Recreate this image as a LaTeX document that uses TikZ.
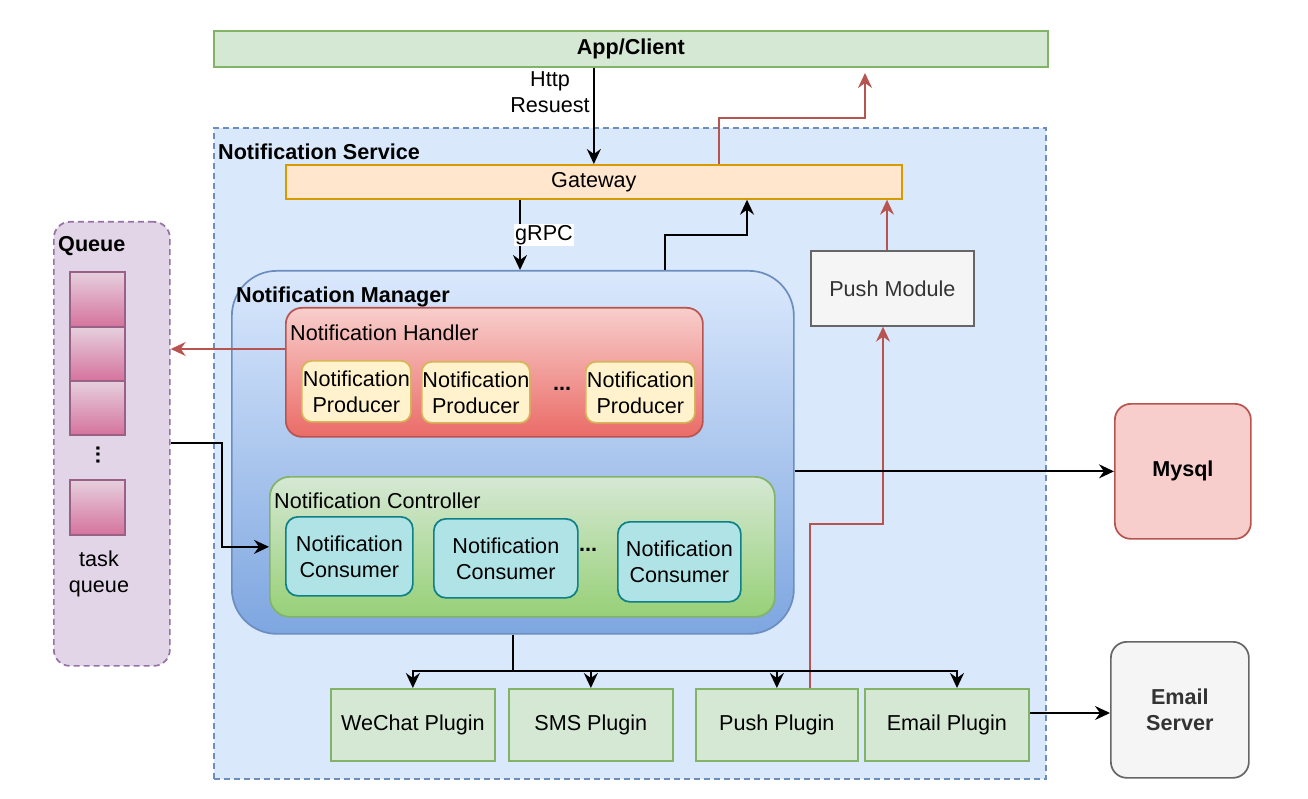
\documentclass[tikz,border=0pt]{standalone}
\usepackage{fontspec}
\setmainfont{Liberation Sans}
\usetikzlibrary{arrows.meta,calc}
\definecolor{appF}{HTML}{D5E8D4}\definecolor{appD}{HTML}{82B366}
\definecolor{svcF}{HTML}{DAE8FC}\definecolor{svcD}{HTML}{6C8EBF}
\definecolor{gwF}{HTML}{FFE6CC}\definecolor{gwD}{HTML}{D79B00}
\definecolor{grayF}{HTML}{F5F5F5}\definecolor{grayD}{HTML}{666666}\definecolor{grayT}{HTML}{333333}
\definecolor{redF}{HTML}{F8CECC}\definecolor{redD}{HTML}{B85450}\definecolor{redB}{HTML}{EA6B66}
\definecolor{quF}{HTML}{E1D5E7}\definecolor{quD}{HTML}{9673A6}
\definecolor{cellT}{HTML}{E6D0DE}\definecolor{cellB}{HTML}{D5739D}\definecolor{cellD}{HTML}{996185}
\definecolor{prF}{HTML}{FFF2CC}\definecolor{prD}{HTML}{D6B656}
\definecolor{coF}{HTML}{B0E3E6}\definecolor{coD}{HTML}{0E8088}
\definecolor{mgrB}{HTML}{7EA6E0}\definecolor{ctlB}{HTML}{97D077}
\begin{document}
\begin{tikzpicture}[x=1pt,y=-1pt,
  font=\fontsize{21.6}{26}\selectfont,
  box/.style={draw, line width=1.7, inner sep=0, align=center, anchor=north west},
  lbl/.style={inner sep=0, anchor=west},
  dashbox/.style={box, dash pattern=on 6pt off 4pt},
  cell/.style={box, draw=cellD, top color=cellT, bottom color=cellB, minimum width=55, minimum height=54},
  prod/.style={box, draw=prD, fill=prF, rounded corners=10, minimum height=61},
  cons/.style={box, draw=coD, fill=coF, rounded corners=12},
  plug/.style={box, draw=appD, fill=appF, minimum height=72},
  conn/.style={line width=1.9, black},
  arr/.style={conn, -{Stealth[length=15, width=14, inset=5]}},
  redarr/.style={line width=1.7, redD, -{Stealth[length=15, width=14, inset=5]}}
]
\useasboundingbox (0,0) rectangle (1308,799);
\fill[white] (0,0) rectangle (1308,799);

% containers
\node[box, draw=appD, fill=appF, minimum width=834, minimum height=36] (app) at (213,30) {\bfseries App/Client};
\node[dashbox, draw=svcD, fill=svcF, minimum width=832, minimum height=651] (svc) at (213,127) {};
\node[lbl] (svclbl) at (218,152) {\bfseries Notification Service};
\node[dashbox, draw=quD, fill=quF, rounded corners=16, minimum width=116, minimum height=444] (queue) at (53,221) {};
\node[lbl] (qlbl) at (58,246) {\bfseries Queue};

\node[box, draw=gwD, fill=gwF, minimum width=616, minimum height=34] (gw) at (285,164) {Gateway};

\node[box, draw=svcD, top color=svcF, bottom color=mgrB, rounded corners=45, minimum width=562, minimum height=363] (mgr) at (231,270) {};
\node[lbl] (mgrlbl) at (236,297) {\bfseries Notification Manager};

\node[box, draw=redD, top color=redF, bottom color=redB, rounded corners=16, minimum width=417, minimum height=129] (hdl) at (285,307) {};
\node[lbl] (hdllbl) at (290,333) {Notification Handler};
\node[prod, minimum width=109] (p1) at (301,360) {Notification\\Producer};
\node[prod, minimum width=108] (p2) at (421,361) {Notification\\Producer};
\node[prod, minimum width=109] (p3) at (585,361) {Notification\\Producer};
\node[inner sep=0] (pdots) at (562,389) {\bfseries ...};

\node[box, draw=appD, top color=appF, bottom color=ctlB, rounded corners=20, minimum width=505, minimum height=140] (ctl) at (269,476) {};
\node[lbl] (ctllbl) at (274,501) {Notification Controller};
\node[cons, minimum width=127, minimum height=79] (c1) at (285,516) {Notification\\Consumer};
\node[cons, minimum width=144, minimum height=79] (c2) at (433,518) {Notification\\Consumer};
\node[cons, minimum width=123, minimum height=80] (c3) at (617,521) {Notification\\Consumer};
\node[inner sep=0] (cdots) at (588,550) {\bfseries ...};

\node[box, draw=grayD, fill=grayF, text=grayT, minimum width=163, minimum height=75] (push) at (810,250) {Push Module};

% queue cells
\node[cell, minimum height=55] (q1) at (69,271) {};
\node[cell] (q2) at (69,326) {};
\node[cell] (q3) at (69,380) {};
\node[inner sep=0, rotate=90] (qdots) at (98,455) {\bfseries ...};
\node[cell, minimum height=55] (q4) at (69,479) {};
\node[inner sep=0, align=center] (tq) at (99,574) {task\\queue};

% externals
\node[box, draw=redD, fill=redF, rounded corners=16, minimum width=136, minimum height=135] (mysql) at (1114,403) {\bfseries Mysql};
\node[box, draw=grayD, fill=grayF, text=grayT, rounded corners=16, minimum width=138, minimum height=136] (email) at (1110,641) {\bfseries Email\\\bfseries Server};

% plugins
\node[plug, minimum width=164] (wc) at (330,688) {WeChat Plugin};
\node[plug, minimum width=164] (sms) at (508,688) {SMS Plugin};
\node[plug, minimum width=162] (pp) at (695,688) {Push Plugin};
\node[plug, minimum width=164] (ep) at (864,688) {Email Plugin};

% connectors
\draw[arr] (gw.north |- app.south) -- (gw.north);
\node[inner sep=0, align=center] (httplbl) at (550,92) {Http\\Resuest};

\coordinate (g1) at ($(gw.south west)+(235,0)$);
\draw[arr] (g1) -- (g1 |- mgr.north) node[midway, fill=white, inner sep=1.5, xshift=24] (grpc) {gRPC};

\draw[arr] ($(mgr.north west)+(434,0)$) -- ++(0,-35) -| ($(gw.south west)+(462,0)$);

\coordinate (apptip) at (865,73);
\draw[redarr] ($(gw.north west)+(434,0)$) -- ++(0,-46) -| (apptip);

\coordinate (pm1) at ($(push.north west)+(77,0)$);
\draw[redarr] (pm1) -- (pm1 |- gw.south);

\draw[redarr] ($(pp.north west)+(115,0)$) -- ++(0,-164) -| ($(push.south west)+(73,0)$);

\coordinate (h1) at ($(hdl.north west)+(0,42)$);
\draw[redarr] (h1) -- (h1 -| queue.east);

\draw[arr] ($(queue.north east)+(0,222)$) -- ++(51,0) |- (ctl.west);

\draw[arr] (mgr.east |- mysql.west) -- (mysql.west);

\coordinate (e1) at ($(ep.north east)+(0,25)$);
\draw[arr] (e1) -- (e1 -| email.west);

\draw[conn] (mgr.south) -- ++(0,36) coordinate (bus);
\draw[arr] (bus) -| (wc.north);
\draw[arr] (bus) -| (sms.north);
\draw[arr] (bus) -| (pp.north);
\draw[arr] (bus) -| ($(ep.north west)+(93,0)$);
\end{tikzpicture}
\end{document}
